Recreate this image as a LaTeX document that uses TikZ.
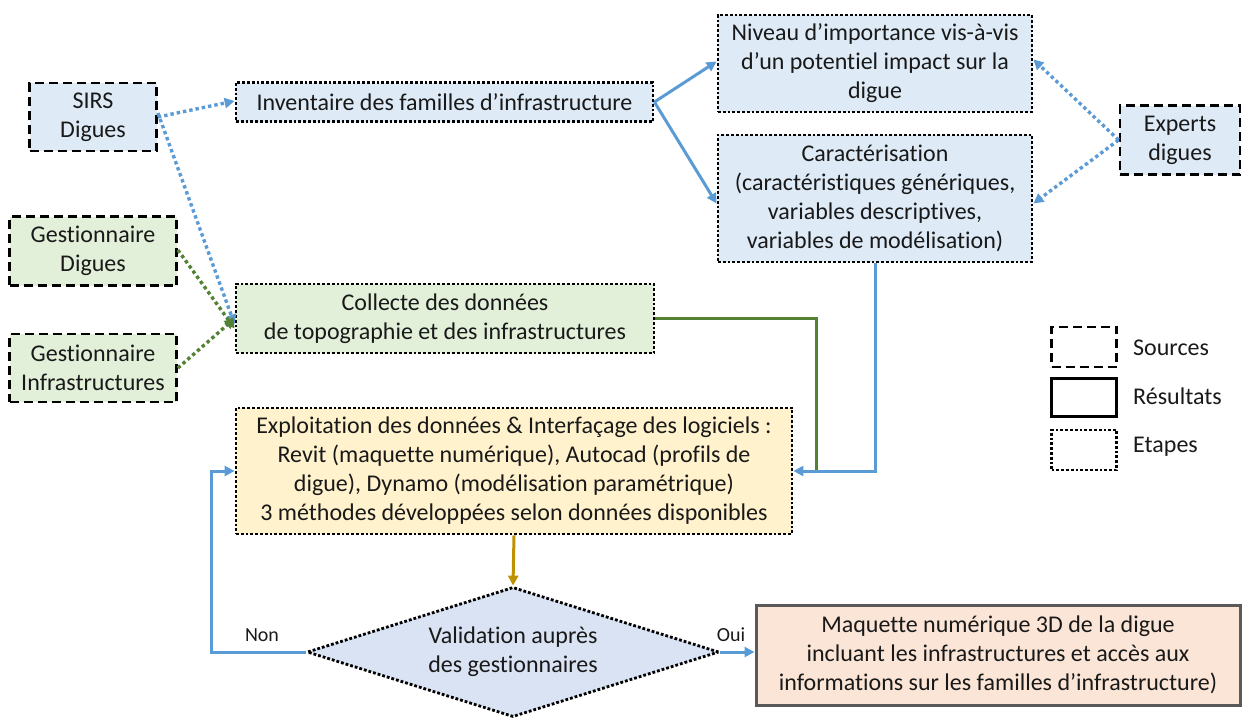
\documentclass[tikz,border=0pt]{standalone}
\usepackage{fontspec}
\setmainfont{Carlito}[Ligatures=NoCommon]
\usetikzlibrary{arrows.meta,shapes.geometric}
\definecolor{cblue}{HTML}{5B9BD5}
\definecolor{fblue}{HTML}{DEEBF7}
\definecolor{fgreen}{HTML}{E2F0D9}
\definecolor{cgreen}{HTML}{548235}
\definecolor{fyellow}{HTML}{FFF2CC}
\definecolor{fpeach}{HTML}{FBE5D6}
\definecolor{fdiam}{HTML}{DAE3F3}
\definecolor{cgold}{HTML}{BF9000}
\definecolor{cgray}{HTML}{595959}
\begin{document}
\begin{tikzpicture}[x=1pt,y=-1pt,
  txt/.style={font=\fontsize{24}{29}\selectfont, align=center, inner sep=0pt, text=black!90},
  srcbox/.style={txt, rectangle, draw=black, line width=2.8pt, dash pattern=on 9pt off 5pt},
  stepbox/.style={txt, rectangle, draw=black, line width=2.8pt, dash pattern=on 2.8pt off 2pt},
  resbox/.style={txt, rectangle, draw=cgray, line width=3pt},
  tip/.style={-{Triangle[length=10pt,width=10pt]}},
  bdot/.style={tip, draw=cblue, line width=3.4pt, dash pattern=on 3.4pt off 3pt},
  gdot/.style={tip, draw=cgreen, line width=3.4pt, dash pattern=on 3.4pt off 3pt},
  bsol/.style={tip, draw=cblue, line width=3pt},
  lbl/.style={font=\fontsize{20}{24}\selectfont, inner sep=0pt, text=black!90}
]
\useasboundingbox (0,0) rectangle (1246,720);

% sources
\node[srcbox, fill=fblue, minimum width=127pt, minimum height=68pt] (sirs) at (93,117) {SIRS\\Digues};
\node[srcbox, fill=fgreen, minimum width=167pt, minimum height=69pt] (gd) at (93,251) {Gestionnaire\\Digues};
\node[srcbox, fill=fgreen, minimum width=167pt, minimum height=68pt] (gi) at (93,368) {Gestionnaire\\Infrastructures};
\node[srcbox, fill=fblue, minimum width=120pt, minimum height=69pt] (expd) at (1180,140) {Experts\\digues};

% steps
\node[stepbox, fill=fblue, minimum width=417pt, minimum height=39pt] (inv) at (444.5,102) {Inventaire des familles d’infrastructure};
\node[stepbox, fill=fblue, minimum width=314pt, minimum height=97pt] (niv) at (875,63.5) {Niveau d’importance vis-à-vis\\d’un potentiel impact sur la\\digue};
\node[stepbox, fill=fblue, minimum width=314pt, minimum height=127pt] (car) at (875,198.5) {Caractérisation\\(caractéristiques génériques,\\variables descriptives,\\variables de modélisation)};
\node[stepbox, fill=fgreen, minimum width=418pt, minimum height=69pt] (col) at (445,318.5) {Collecte des données\\de topographie et des infrastructures};
\node[stepbox, fill=fyellow, minimum width=556pt, minimum height=126pt] (expl) at (514,471) {Exploitation des données \& Interfaçage des logiciels :\\Revit (maquette numérique), Autocad (profils de\\digue), Dynamo (modélisation paramétrique)\\3 méthodes développées selon données disponibles};
\node[stepbox, diamond, fill=fdiam, aspect=3.17, minimum width=412pt, minimum height=130pt] (dia) at (513,652) {Validation auprès\\des gestionnaires};

% result
\node[resbox, fill=fpeach, minimum width=484pt, minimum height=100pt] (maq) at (998,655) {Maquette numérique 3D de la digue\\incluant les infrastructures et accès aux\\informations sur les familles d’infrastructure)};

% legend
\node[srcbox, minimum width=65pt, minimum height=40pt] (l1) at (1084,347) {};
\node[resbox, draw=black, minimum width=65pt, minimum height=38pt] (l2) at (1084,397) {};
\node[stepbox, minimum width=65pt, minimum height=40pt] (l3) at (1084,450) {};
\node[txt, anchor=west] (t1) at (1133,348) {Sources};
\node[txt, anchor=west] (t2) at (1133,396) {Résultats};
\node[txt, anchor=west] (t3) at (1133,447) {Etapes};

% connectors
\draw[bdot] (sirs.east) -- ([yshift=1pt]inv.west);
\draw[bdot] ([yshift=4pt]sirs.east) -- ([yshift=-6pt]col.west);
\draw[gdot] ([yshift=1pt]gd.east) -- ([yshift=-10pt]col.west);
\draw[gdot] (gi.east) -- (col.west);
\draw[bsol] (inv.east) -- ([yshift=2pt]niv.west);
\draw[bsol] (inv.east) -- ([yshift=-5pt]car.west);
\draw[bdot] (expd.west) -- ([yshift=4pt]niv.east);
\draw[bdot] (expd.west) -- ([yshift=-5pt]car.east);

\draw[draw=cgreen, line width=3pt] (col.east) -| ([xshift=23pt]expl.east);
\draw[bsol] (car.south) |- (expl.east);
\draw[tip, draw=cgold, line width=3pt] (expl.south) -- (dia.north);
\draw[bsol] (dia.west) -| ([xshift=-23pt]expl.west) -- (expl.west);
\draw[bsol] (dia.east) -- (dia.east -| maq.west);
\node[lbl] (non) at (262,635) {Non};
\node[lbl] (oui) at (731,635) {Oui};
\end{tikzpicture}
\end{document}
